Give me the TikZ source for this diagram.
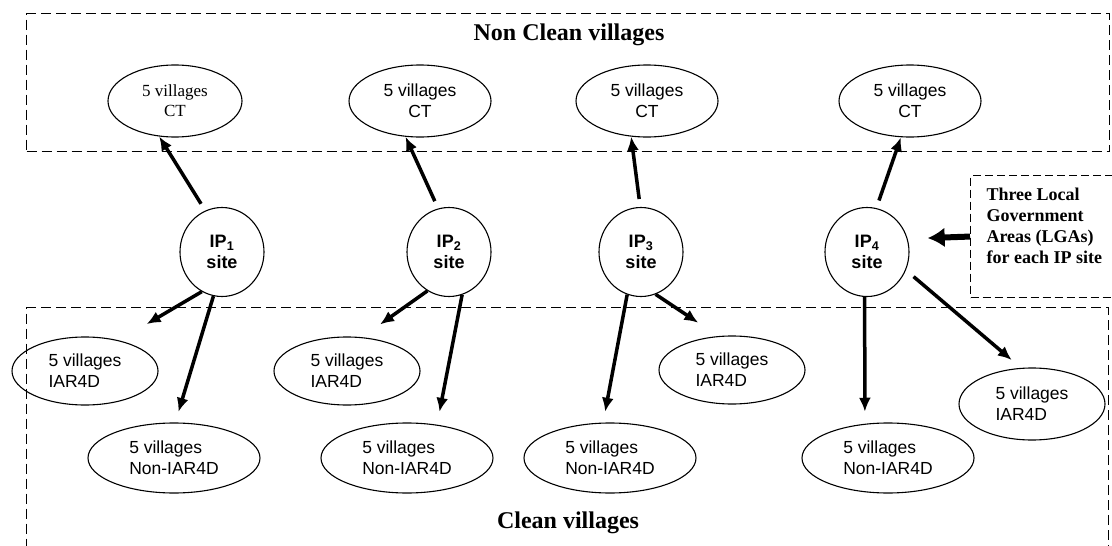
\documentclass[tikz,border=0pt]{standalone}
\usepackage{fontspec}
\setmainfont{Liberation Serif}
\setsansfont{Liberation Sans}
\usetikzlibrary{%
  arrows.meta,%
  shapes.geometric,% wg. ellipse
  positioning%
}

\begin{document}
\begin{tikzpicture}
  [
  x=1pt, y=-1pt,
  line width=1.1pt, >={Latex[length=14pt,width=12pt]},
  zone/.style={rectangle, draw=black, dash pattern=on 10pt off 5pt, line width=1.1pt, inner sep=0pt, anchor=north west},
  zonetitle/.style={font=\bfseries\fontsize{24}{28}\selectfont},
  village/.style={ellipse, draw=black, line width=1.1pt, inner sep=0pt, align=left, font=\sffamily\fontsize{17.5}{21}\selectfont},
  ctnode/.style={village, align=center, minimum width=142pt, minimum height=72pt},
  iarnode/.style={village, minimum width=146pt, minimum height=68pt},
  nonnode/.style={village, minimum width=172pt, minimum height=70pt},
  ipnode/.style={ellipse, draw=black, line width=1.1pt, inner sep=0pt, minimum width=84pt, minimum height=89pt, align=center, font=\sffamily\bfseries\fontsize{18}{21}\selectfont},
  link/.style={->, line width=3.5pt},
  ]

  \useasboundingbox (0,0) rectangle (1112,546);
  \clip (0,0) rectangle (1112,546);

  % the two groups of villages
  \node[zone, minimum width=1083pt, minimum height=138pt] (nonclean) at (26,13) {};
  \node[zone, minimum width=1082pt, minimum height=260pt] (clean) at (26,307) {};
  \node[zonetitle] (nctitle) at (569,35) {Non Clean villages};
  \node[zonetitle] (ctitle) at (568,523) {Clean villages};

  \node[ctnode, minimum width=134pt, font=\rmfamily\fontsize{17}{20}\selectfont] (ct1) at (175,101) {5 villages\\CT};
  \foreach \i/\x in {2/420,3/647,4/910} {
    \node[ctnode] (ct\i) at (\x,101) {5 villages\\CT};
  }

  \foreach \i/\x in {1/222,2/449,3/641,4/867} {
    \node[ipnode] (ip\i) at (\x,252) {IP\textsubscript{\i}\\site};
  }

  \node[iarnode] (iar1) at (85,371) {5 villages\\IAR4D};
  \node[iarnode] (iar2) at (347,371) {5 villages\\IAR4D};
  \node[iarnode] (iar3) at (732,370) {5 villages\\IAR4D};
  \node[iarnode, minimum height=72pt] (iar4) at (1032,404) {5 villages\\IAR4D};

  \foreach \i/\x in {1/174,2/407,3/610,4/888} {
    \node[nonnode] (non\i) at (\x,458) {5 villages\\Non-IAR4D};
  }

  % LGA box
  \node[zone, dash pattern=on 8pt off 4pt, minimum width=160pt, minimum height=122pt] (lgabox) at (970,175) {};
  \node[anchor=north west, align=left, inner sep=0pt, font=\bfseries\fontsize{18}{21}\selectfont] (lga) at (986,187) {Three Local\\Government\\Areas (LGAs)\\for each IP site};

  % up to CT
  \draw[link, shorten <=8pt] (ip1.112) -- (ct1.-114);
  \draw[link, shorten <=8pt] (ip2.104) -- (ct2.-112);
  \draw[link, shorten <=8pt] (ip3.91) -- (ct3.-114);
  \draw[link, shorten <=8pt] (ip4.78) -- (ct4.-104);

  % down to IAR4D / Non-IAR4D
  \draw[link, shorten >=32pt] (ip1.-117) -- (iar1.42);
  \draw[link, shorten >=11pt] (ip1.-101) -- (non1.88);
  \draw[link, shorten >=22pt] (ip2.-119) -- (iar2.66);
  \draw[link, shorten >=13pt] (ip2.-73) -- (non2.48);
  \draw[link, shorten >=11pt] (ip3.-108) -- (non3.101);
  \draw[link, shorten >=24pt] (ip3.-71) -- (iar3.112);
  \draw[link, shorten >=12pt] (ip4.-93) -- (non4.124);
  \draw[link, shorten <=10pt, shorten >=12pt] (ip4.-25) -- (iar4.107);

  \draw[->, line width=6pt, >={Latex[length=17pt,width=20pt]}, shorten >=20pt] (lgabox.west) -- (ip4.18);

\end{tikzpicture}
\end{document}
